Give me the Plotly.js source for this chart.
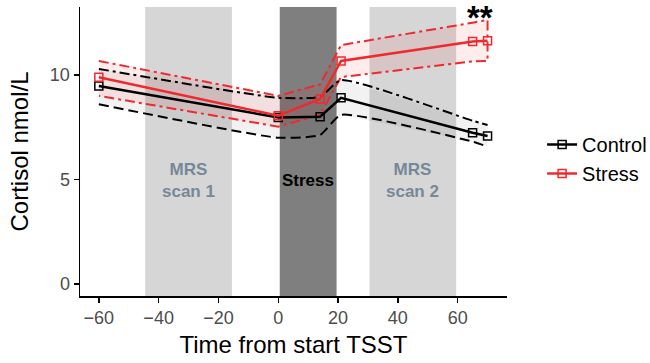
<!DOCTYPE html>
<html>
<head>
<meta charset="utf-8">
<script src="https://cdn.plot.ly/plotly-3.0.1.min.js"></script>
<style>html,body{margin:0;padding:0;background:#fff}#chart{width:650px;height:363px}</style>
</head>
<body>
<div id="chart"></div>
<script>
// Time points (minutes from start TSST)
const timePoints = [-60, 0, 14, 21, 65, 70];

// Control group
const controlMean  = [9.47, 7.97, 8.0, 8.91, 7.24, 7.08];
const controlUpper = [10.29, 8.91, 8.96, 9.76, 7.81, 7.61];
const controlLower = [8.6, 7.0, 7.13, 8.09, 6.81, 6.57];

// Stress group
const stressMean  = [9.89, 8.05, 8.85, 10.67, 11.6, 11.64];
const stressUpper = [10.67, 9.0, 9.55, 11.43, 12.5, 12.63];
const stressLower = [9.0, 7.53, 8.09, 9.9, 10.65, 10.67];

// Phases (background bands)
const phaseLabels = ["MRS<br>scan 1", "Stress", "MRS<br>scan 2"];
const phaseStart  = [-44.5, 0.5, 30.5];
const phaseEnd    = [-15.5, 19.5, 59.5];

const groupNames = ["Control", "Stress"];
const sigLabel = "**";
const sigTime = 67.5;
const sigValue = 12.75;

const black = "#000000";
const red = "#EE2A2E";
const DASHDOT = "10px,4px,3px,4px";
const DASH = "10px,5px";

function polygon(x, up, lo) {
  return { x: x.concat(x.slice().reverse()), y: up.concat(lo.slice().reverse()) };
}
const cPoly = polygon(timePoints, controlUpper, controlLower);
const sPoly = polygon(timePoints, stressUpper, stressLower);

const traces = [
  // ribbons
  {x: cPoly.x, y: cPoly.y, type: 'scatter', mode: 'lines', fill: 'toself',
   fillcolor: 'rgba(0,0,0,0.05)', line: {width: 0}, showlegend: false, hoverinfo: 'skip'},
  {x: sPoly.x, y: sPoly.y, type: 'scatter', mode: 'lines', fill: 'toself',
   fillcolor: 'rgba(255,0,0,0.07)', line: {color: red, width: 2, dash: DASHDOT}, showlegend: false, hoverinfo: 'skip'},
  // control CI lines
  {x: timePoints, y: controlUpper, type: 'scatter', mode: 'lines',
   line: {color: black, width: 2, dash: DASHDOT, shape: 'spline', smoothing: 0.5}, showlegend: false},
  {x: timePoints, y: controlLower, type: 'scatter', mode: 'lines',
   line: {color: black, width: 2, dash: DASH, shape: 'spline', smoothing: 0.5}, showlegend: false},
  // means
  {x: timePoints, y: controlMean, name: groupNames[0], type: 'scatter', mode: 'lines+markers',
   line: {color: black, width: 2.5},
   marker: {symbol: 'square-open', size: 8, color: black, line: {width: 1.5, color: black}}},
  {x: timePoints, y: stressMean, name: groupNames[1], type: 'scatter', mode: 'lines+markers',
   line: {color: red, width: 2.5},
   marker: {symbol: 'square-open', size: 8, color: red, line: {width: 1.5, color: red}}}
];

const shapes = phaseLabels.map((p, i) => ({
  type: 'rect', xref: 'x', yref: 'paper', x0: phaseStart[i], x1: phaseEnd[i], y0: 0, y1: 1,
  fillcolor: i === 1 ? '#7F7F7F' : '#D6D6D6', line: {width: 0}, layer: 'below'
}));

const annotations = phaseLabels.map((p, i) => ({
  x: (phaseStart[i] + phaseEnd[i]) / 2, y: i === 1 ? 4.97 : 4.95, xref: 'x', yref: 'y',
  text: p, showarrow: false,
  font: {family: 'Liberation Sans, Arial, sans-serif', size: 17, color: i === 1 ? '#000000' : '#778899', weight: 'bold'},
  align: 'center'
}));
annotations.push({
  x: sigTime, y: sigValue, xref: 'x', yref: 'y', text: sigLabel, showarrow: false,
  font: {family: 'Liberation Sans, Arial, sans-serif', size: 33, color: '#000', weight: 'bold'}
});

const layout = {
  width: 650, height: 363,
  margin: {l: 80, r: 143, t: 7, b: 67},
  paper_bgcolor: '#fff', plot_bgcolor: '#fff',
  font: {family: 'Liberation Sans, Arial, sans-serif'},
  xaxis: {
    range: [-66.3, 76.5], tickvals: [-60, -40, -20, 0, 20, 40, 60],
    ticktext: ['\u221260', '\u221240', '\u221220', '0', '20', '40', '60'],
    showgrid: false, zeroline: false, showline: true, linecolor: '#000', linewidth: 1.5,
    ticks: 'outside', ticklen: 5, tickcolor: '#000', tickwidth: 1.5,
    tickfont: {size: 18, color: '#4D4D4D'},
    title: {text: 'Time from start TSST', font: {size: 24, color: '#000'}, standoff: 9}
  },
  yaxis: {
    range: [-0.57, 13.25], tickvals: [0, 5, 10],
    showgrid: false, zeroline: false, showline: true, linecolor: '#000', linewidth: 1.5,
    ticks: 'outside', ticklen: 5, tickcolor: '#000', tickwidth: 1.5,
    tickfont: {size: 18, color: '#4D4D4D'},
    title: {text: 'Cortisol nmol/L', font: {size: 24, color: '#000'}, standoff: 14}
  },
  legend: {xref: 'container', yref: 'container', x: 0.834, y: 0.562, xanchor: 'left', yanchor: 'middle',
    font: {size: 20, color: '#000'}, bgcolor: 'rgba(0,0,0,0)', tracegroupgap: 0},
  shapes: shapes,
  annotations: annotations
};

Plotly.newPlot('chart', traces, layout, {displayModeBar: false, staticPlot: true});
</script>
</body>
</html>
